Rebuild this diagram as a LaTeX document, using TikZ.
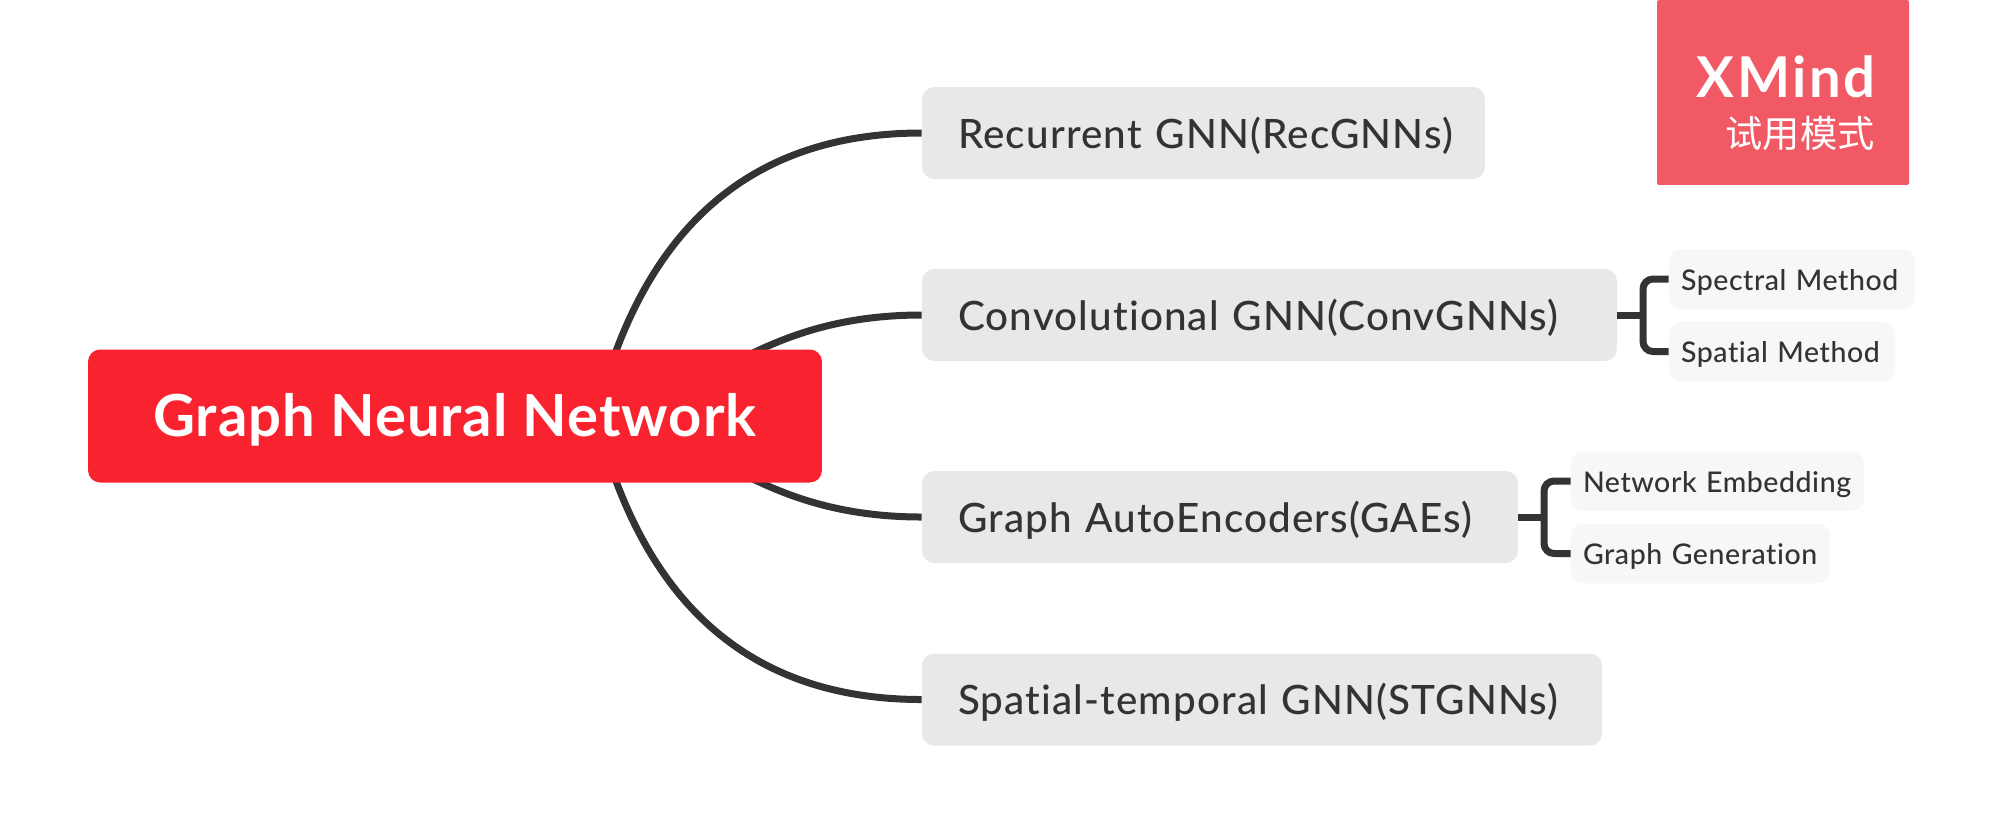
\documentclass[tikz,border=0pt]{standalone}
\usepackage{fontspec}
\usepackage{xcolor}
\setmainfont{Lato Medium}[BoldFont=Lato Bold, RawFeature=-liga]
\newfontfamily\cjkfont{Noto Sans CJK SC}
\usetikzlibrary{backgrounds}
\definecolor{rootred}{HTML}{F9232F}
\definecolor{markred}{HTML}{F15A65}
\definecolor{maingray}{HTML}{E8E8E8}
\definecolor{subgray}{HTML}{F7F7F7}
\definecolor{inkgray}{HTML}{333333}
\tikzset{
  rootbox/.style={fill=rootred, text=white, rounded corners=0.24cm, minimum height=2.66cm, text height=0.83cm, text depth=0pt, font=\fontsize{33}{33}\selectfont\bfseries\addfontfeature{LetterSpace=1.7}},
  mainbox/.style={fill=maingray, text=inkgray, rounded corners=0.24cm, minimum height=1.84cm, inner xsep=0.72cm, align=left, text height=0.6cm, text depth=0pt, font=\fontsize{23}{23}\selectfont\addfontfeature{LetterSpace=2.8}},
  subbox/.style={fill=subgray, text=inkgray, rounded corners=0.24cm, minimum height=1.19cm, inner xsep=0.24cm, align=left, text height=0.44cm, text depth=0pt, font=\fontsize{16.2}{16.2}\selectfont\addfontfeature{LetterSpace=2}},
  branch/.style={draw=inkgray, line width=0.14cm}
}

\begin{document}
\begin{tikzpicture}[x=0.02cm, y=-0.02cm]
	\useasboundingbox (0,0) rectangle (2003,833);

	% Define the topics
	\node[rootbox, minimum width=14.68cm] (root) at (455,416) {Graph Neural Network};
	\node[mainbox, text width=9.82cm] (rec) at (1203.5,133) {\mbox{Recurrent GNN(RecGNNs)}};
	\node[mainbox, text width=12.46cm] (conv) at (1269.5,315) {\mbox{Convolutional GNN(ConvGNNs)}};
	\node[mainbox, text width=10.48cm] (gae) at (1220,517) {\mbox{Graph AutoEncoders(GAEs)}};
	\node[mainbox, text width=12.16cm] (st) at (1262,699.5) {\mbox{Spatial-temporal GNN(STGNNs)}};

	% Define the subtopics
	\node[subbox, text width=4.44cm] (spec) at (1792,279) {\mbox{Spectral Method}};
	\node[subbox, text width=4.04cm] (spat) at (1782,351.5) {\mbox{Spatial Method}};
	\node[subbox, text width=5.38cm] (embed) at (1717.5,481) {\mbox{Network Embedding}};
	\node[subbox, text width=4.70cm] (gen) at (1700.5,553.5) {\mbox{Graph Generation}};

	% Define the trial mark
	\node[fill=markred, rounded corners=0.04cm, minimum width=5.04cm, minimum height=3.70cm] (mark) at (1783,92.5) {};
	\node[text=white, anchor=base east, inner sep=0pt, font=\fontsize{32}{32}\selectfont\bfseries\addfontfeature{LetterSpace=4.7}] (marktitle) at (1876,97) {XMind};
	\node[text=white, anchor=base east, inner sep=0pt, font=\fontsize{21.2}{21.2}\cjkfont] (marknote) at (1875,147) {试用模式};

	% Define the hidden ends
	\coordinate (hub) at (596,416);
	\coordinate (convfork) at (1643,315);
	\coordinate (gaefork) at (1544,517);

	% Draw the edges
	\begin{scope}[on background layer]
		\draw[branch] (hub) .. controls (640,240) and (740,133) .. (rec.west);
		\draw[branch] (hub) .. controls (690,420) and (740,315) .. (conv.west);
		\draw[branch] (hub) .. controls (690,412) and (740,517) .. (gae.west);
		\draw[branch] (hub) .. controls (640,592) and (740,699.5) .. (st.west);
		\draw[branch] (conv.east) -- (convfork);
		\draw[branch, rounded corners=0.2cm] (spec.west) -| (convfork) |- (spat.west);
		\draw[branch] (gae.east) -- (gaefork);
		\draw[branch, rounded corners=0.2cm] (embed.west) -| (gaefork) |- (gen.west);
	\end{scope}
\end{tikzpicture}
\end{document}
